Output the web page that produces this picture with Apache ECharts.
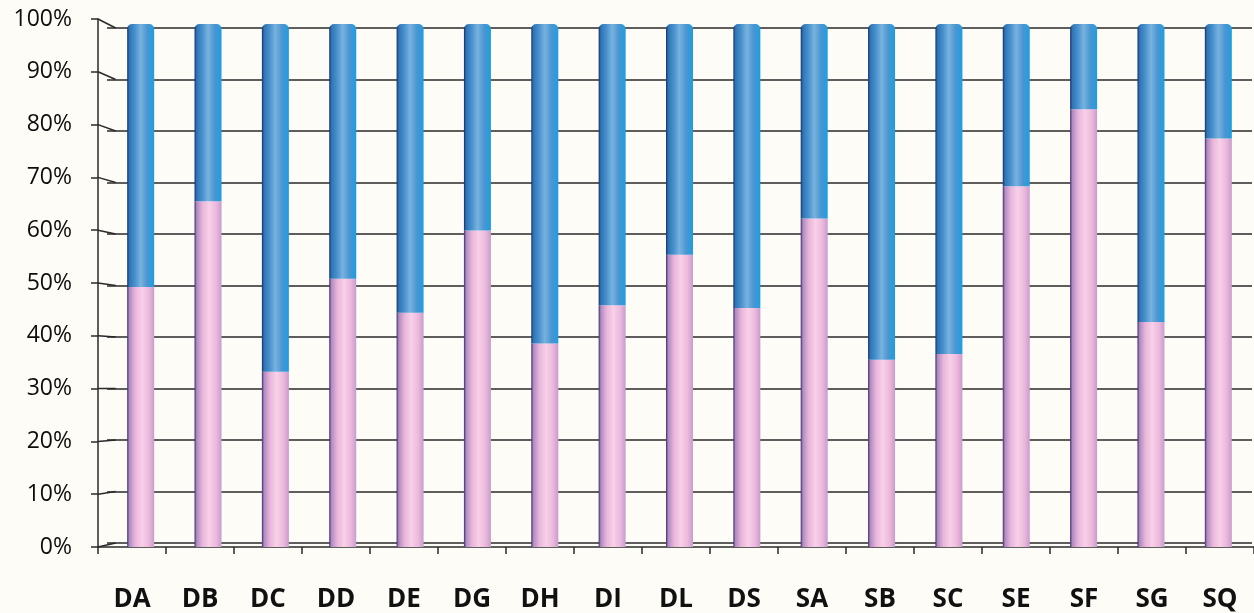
<!DOCTYPE html>
<html>
<head>
<meta charset="utf-8">
<script src="https://cdn.jsdelivr.net/npm/echarts@6/dist/echarts.min.js"></script>
<style>
html,body{margin:0;padding:0;background:#fdfcf7;}
#chart{width:1254px;height:613px;}
</style>
</head>
<body>
<div id="chart"></div>
<script>
const categories = ['DA','DB','DC','DD','DE','DG','DH','DI','DL','DS','SA','SB','SC','SE','SF','SG','SQ'];
const pinkValues = [49.7,66.1,33.5,51.3,44.8,60.5,38.9,46.2,55.9,45.7,62.8,35.8,36.9,69.0,83.7,43.0,78.1];
const blueValues = pinkValues.map(v => +(100 - v).toFixed(1));
const yTicks = [0,10,20,30,40,50,60,70,80,90,100];

const chart = echarts.init(document.getElementById('chart'));

const pinkGrad = new echarts.graphic.LinearGradient(0,0,1,0,[
  {offset:0,color:'#3a2e6e'},
  {offset:0.08,color:'#b08ac0'},
  {offset:0.3,color:'#e9b6db'},
  {offset:0.55,color:'#f8d0e8'},
  {offset:0.8,color:'#ebb9dc'},
  {offset:1,color:'#c89ccc'}
]);
const blueGrad = new echarts.graphic.LinearGradient(0,0,1,0,[
  {offset:0,color:'#162f6a'},
  {offset:0.08,color:'#2f74b4'},
  {offset:0.3,color:'#4a93cf'},
  {offset:0.5,color:'#78b2de'},
  {offset:0.75,color:'#4a95d2'},
  {offset:1,color:'#1e9ee0'}
]);

const gridColor = '#2a2a2a';

const option = {
  backgroundColor:'#fdfcf7',
  animation:false,
  grid:[
    {left:107, right:2, top:28, bottom:70},
    {left:107, right:2, top:24, bottom:66},
    {left:98, right:-5, top:19, bottom:62}
  ],
  xAxis:[
    {gridIndex:0, type:'category', data:categories, show:false},
    {gridIndex:1, type:'category', data:categories, show:false},
    {gridIndex:2, type:'category', data:categories,
     axisLine:{show:true, lineStyle:{color:gridColor, width:1.5}},
     axisTick:{show:true, length:7, lineStyle:{color:gridColor, width:1.5}},
     axisLabel:{color:'#111', fontFamily:'Open Sans', fontWeight:'bold', fontSize:26, margin:40},
     splitLine:{show:false}}
  ],
  yAxis:[
    {gridIndex:0, type:'value', min:0, max:100, interval:10,
     axisLine:{show:false}, axisTick:{show:false}, axisLabel:{show:false},
     splitLine:{show:true, lineStyle:{color:gridColor, width:1.6}}},
    {gridIndex:1, type:'value', min:0, max:100, interval:10, show:false},
    {gridIndex:2, type:'value', min:0, max:100, interval:10,
     axisLine:{show:true, lineStyle:{color:gridColor, width:1.5}},
     axisTick:{show:true, length:7, lineStyle:{color:gridColor, width:1.5}},
     axisLabel:{color:'#0d0d0d', fontFamily:'Open Sans', fontSize:23, margin:26,
       formatter: v => v + '%'},
     splitLine:{show:false}}
  ],
  series:[
    {type:'bar', name:'pink', xAxisIndex:1, yAxisIndex:1, stack:'s', data:pinkValues,
     barWidth:27, itemStyle:{color:pinkGrad}, z:5},
    {type:'bar', name:'blue', xAxisIndex:1, yAxisIndex:1, stack:'s', data:blueValues,
     barWidth:27, itemStyle:{color:blueGrad, borderRadius:[5,5,0,0]}, z:5}
  ]
};
chart.setOption(option);

// connectors between front axis ticks and back grid lines (derived from axis scales)
const graphics = [];
yTicks.forEach(v => {
  const yf = chart.convertToPixel({yAxisIndex:2}, v);
  const yb = chart.convertToPixel({yAxisIndex:0}, v);
  const xf = chart.convertToPixel({xAxisIndex:2}, 0) - 34;
  const xb = chart.convertToPixel({xAxisIndex:0}, 0) - 33;
  graphics.push({type:'line', shape:{x1:xf, y1:yf, x2:xb + 8, y2:yb},
    style:{stroke:gridColor, lineWidth:1.5}, z:3});
});
chart.setOption({graphic:graphics});
</script>
</body>
</html>
